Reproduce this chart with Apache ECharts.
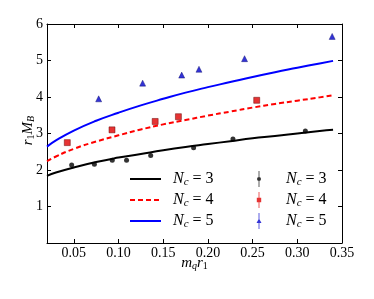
<!DOCTYPE html>
<html><head><meta charset="utf-8">
<script src="https://cdn.jsdelivr.net/npm/echarts@6/dist/echarts.min.js"></script>
<style>html,body{margin:0;padding:0;background:#fff}#c{width:374px;height:299px}</style>
</head><body><div id="c"></div>
<script>
// Curve samples
const curveX = [0.02,0.03,0.05,0.075,0.1,0.125,0.15,0.175,0.2,0.225,0.25,0.275,0.3,0.325,0.34];
const curveNc3 = [1.84,1.93,2.07,2.22,2.34,2.44,2.54,2.63,2.71,2.79,2.87,2.93,3.00,3.07,3.10];
const curveNc4 = [2.24,2.37,2.58,2.78,2.95,3.11,3.25,3.37,3.49,3.60,3.71,3.81,3.90,3.99,4.05];
const curveNc5 = [2.64,2.81,3.08,3.35,3.57,3.77,3.95,4.12,4.27,4.41,4.55,4.68,4.80,4.92,4.99];
// Lattice points
const ptsNc3X = [0.0476,0.073,0.093,0.109,0.136,0.184,0.228,0.309];
const ptsNc3Y = [2.14,2.16,2.27,2.27,2.40,2.61,2.85,3.07];
const ptsNc4X = [0.0427,0.0927,0.141,0.167,0.2546];
const ptsNc4Y = [2.75,3.10,3.33,3.46,3.91];
const ptsNc5X = [0.0778,0.127,0.1707,0.190,0.241,0.339];
const ptsNc5Y = [3.95,4.38,4.60,4.76,5.05,5.66];
const xTicks = [0.05,0.10,0.15,0.20,0.25,0.30,0.35];

const zip = (a,b)=>a.map((v,i)=>[v,b[i]]);
const F = 'Liberation Serif';
const rich = {
  i:{fontFamily:F,fontStyle:'italic',fontSize:16,color:'#000'},
  s:{fontFamily:F,fontStyle:'italic',fontSize:11,color:'#000',padding:[6,0,0,0]},
  r:{fontFamily:F,fontSize:16,color:'#000'}
};
const nameRich = {
  i:{fontFamily:F,fontStyle:'italic',fontSize:15,color:'#000'},
  s:{fontFamily:F,fontStyle:'italic',fontSize:10,color:'#000',padding:[6,0,0,0]},
  t:{fontFamily:F,fontSize:10,color:'#000',padding:[6,0,0,0]}
};
const legFmt = n => '{i|N}{s|c}{r| = ' + n.trim().slice(-1) + '}';
const errIcon = (shape) => {
  const bar = 'M2.6,0 L3.4,0 L3.4,16 L2.6,16 Z ';
  let m;
  if (shape==='c') m = 'M5,8 A2,2 0 1,1 1,8 A2,2 0 1,1 5,8 Z';
  else if (shape==='s') m = 'M0.8,5.8 L5.2,5.8 L5.2,10.2 L0.8,10.2 Z';
  else m = 'M3,5.5 L5.5,10 L0.5,10 Z';
  return 'path://M0,0 L6,0 L6,0.01 L0,0.01 Z ' + bar + m;
};
const chart = echarts.init(document.getElementById('c'), null, {renderer:'canvas'});
const axisLbl = {fontFamily:F,fontSize:14,color:'#000'};
chart.setOption({
  animation:false,
  grid:{left:47,right:32,top:24,bottom:56},
  xAxis:[{
    type:'value',min:0.02,max:0.35,position:'bottom',
    name:'{i|m}{s|q}{i|r}{t|1}',nameLocation:'middle',nameGap:12,nameMoveOverlap:false,
    nameTextStyle:{rich:nameRich},
    axisLine:{show:true,onZero:false,lineStyle:{color:'#000',width:1}},
    axisTick:{show:true,inside:true,length:4,customValues:xTicks,lineStyle:{color:'#000'}},
    axisLabel:Object.assign({customValues:xTicks,margin:3,formatter:v=>v.toFixed(2)},axisLbl),
    splitLine:{show:false}
  },{
    type:'value',min:0.02,max:0.35,position:'top',
    axisLine:{show:true,onZero:false,lineStyle:{color:'#000',width:1}},
    axisTick:{show:true,inside:true,length:4,customValues:xTicks,lineStyle:{color:'#000'}},
    axisLabel:{show:false},splitLine:{show:false}
  }],
  yAxis:[{
    type:'value',min:0,max:6,interval:1,position:'left',
    name:'{i|r}{t|1}{i|M}{s|B}',nameLocation:'middle',nameGap:11,nameRotate:90,nameMoveOverlap:false,
    nameTextStyle:{rich:nameRich,padding:[0,0,0,6]},
    axisLine:{show:true,onZero:false,lineStyle:{color:'#000',width:1}},
    axisTick:{show:true,inside:true,length:4,lineStyle:{color:'#000'}},
    axisLabel:Object.assign({margin:4,formatter:v=>v===0?'':String(v)},axisLbl),
    splitLine:{show:false}
  },{
    type:'value',min:0,max:6,interval:1,position:'right',
    axisLine:{show:true,onZero:false,lineStyle:{color:'#000',width:1}},
    axisTick:{show:true,inside:true,length:4,lineStyle:{color:'#000'}},
    axisLabel:{show:false},splitLine:{show:false}
  }],
  legend:[{
    data:['N_c = 3','N_c = 4','N_c = 5'],orient:'vertical',left:124,top:166,
    itemWidth:31,itemHeight:16,itemGap:4.5,formatter:legFmt,
    itemStyle:{color:'rgba(0,0,0,0)',borderWidth:0,opacity:0},
    textStyle:{rich:rich,padding:[0,0,0,7]}
  },{
    data:[{name:'N_c = 3 ',icon:errIcon('c')},{name:'N_c = 4 ',icon:errIcon('s')},{name:'N_c = 5 ',icon:errIcon('t')}],
    orient:'vertical',left:251,top:166,itemWidth:6,itemHeight:16,itemGap:4.5,formatter:legFmt,
    itemStyle:{borderWidth:0},
    textStyle:{rich:rich,padding:[0,0,0,19]}
  }],
  series:[
    {name:'N_c = 3',type:'line',smooth:true,symbol:'none',data:zip(curveX,curveNc3),lineStyle:{color:'#000',width:2},itemStyle:{color:'#000'}},
    {name:'N_c = 4',type:'line',smooth:true,symbol:'none',data:zip(curveX,curveNc4),lineStyle:{color:'#ff0000',width:2,type:[5,3]},itemStyle:{color:'#ff0000'}},
    {name:'N_c = 5',type:'line',smooth:true,symbol:'none',data:zip(curveX,curveNc5),lineStyle:{color:'#0000ff',width:2},itemStyle:{color:'#0000ff'}},
    {name:'N_c = 3 ',type:'scatter',symbol:'circle',symbolSize:5,data:zip(ptsNc3X,ptsNc3Y),itemStyle:{color:'#000'}},
    {name:'N_c = 4 ',type:'scatter',symbol:'rect',symbolSize:6,data:zip(ptsNc4X,ptsNc4Y),itemStyle:{color:'#e00000',borderColor:'#600',borderWidth:0.6}},
    {name:'N_c = 5 ',type:'scatter',symbol:'triangle',symbolSize:6,data:zip(ptsNc5X,ptsNc5Y),itemStyle:{color:'#0000cc',borderColor:'#000066',borderWidth:0.5}}
  ]
});
</script></body></html>
